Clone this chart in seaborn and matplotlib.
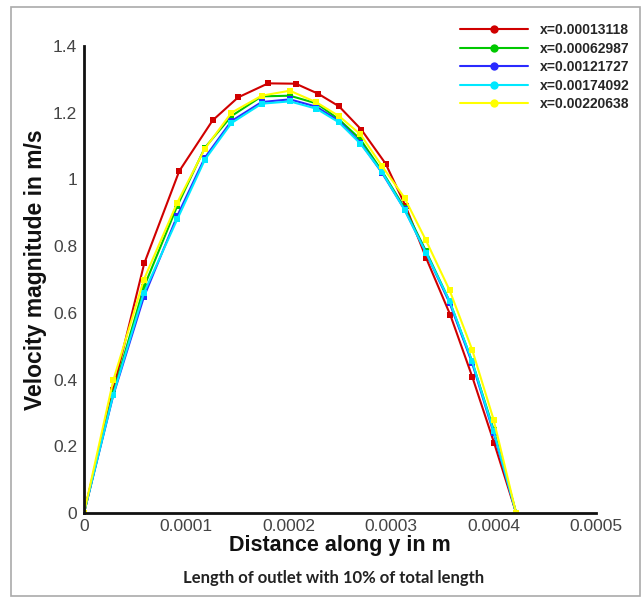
import matplotlib
matplotlib.use("Agg")
import matplotlib.pyplot as plt
import seaborn as sns
import pandas as pd
import numpy as np
from matplotlib.lines import Line2D
from matplotlib.patches import Rectangle
from matplotlib.ticker import AutoMinorLocator

labels = ["x=0.00013118", "x=0.00062987", "x=0.00121727", "x=0.00174092", "x=0.00220638"]
colors = ["#d00000", "#00c800", "#2a2aff", "#00e8ff", "#ffff00"]

x_ticks = [0, 0.0001, 0.0002, 0.0003, 0.0004, 0.0005]
x_tick_labels = ["0", "0.0001", "0.0002", "0.0003", "0.0004", "0.0005"]
y_ticks = [0, 0.2, 0.4, 0.6, 0.8, 1.0, 1.2, 1.4]
y_tick_labels = ["0", "0.2", "0.4", "0.6", "0.8", "1", "1.2", "1.4"]

x_red = [0, 0.0000286, 0.0000588, 0.000093, 0.0001256, 0.0001505, 0.0001798, 0.0002068,
         0.0002286, 0.0002491, 0.0002709, 0.0002946, 0.0003141, 0.0003343, 0.0003578,
         0.0003792, 0.0004005, 0.000422]
x_other = [0, 0.0000286, 0.0000585, 0.000091, 0.000118, 0.000144, 0.0001735, 0.000201,
           0.000227, 0.000249, 0.000270, 0.000291, 0.000313, 0.000334, 0.000357,
           0.000379, 0.0004, 0.000422]

v_red = [0, 0.37, 0.748, 1.025, 1.177, 1.246, 1.288, 1.287, 1.257, 1.219, 1.149, 1.047,
         0.92, 0.763, 0.593, 0.408, 0.21, 0]
v_green = [0, 0.36, 0.677, 0.92, 1.095, 1.19, 1.249, 1.251, 1.228, 1.18, 1.12, 1.025,
           0.915, 0.785, 0.635, 0.455, 0.25, 0]
v_blue = [0, 0.353, 0.648, 0.89, 1.065, 1.175, 1.232, 1.24, 1.218, 1.175, 1.11, 1.02,
          0.91, 0.78, 0.63, 0.45, 0.24, 0]
v_cyan = [0, 0.355, 0.66, 0.88, 1.059, 1.169, 1.227, 1.234, 1.212, 1.171, 1.107, 1.022,
          0.909, 0.78, 0.635, 0.455, 0.245, 0]
v_yellow = [0, 0.398, 0.70, 0.93, 1.092, 1.20, 1.251, 1.266, 1.231, 1.19, 1.135, 1.04,
            0.945, 0.817, 0.668, 0.49, 0.28, 0]

xs = [x_red, x_other, x_other, x_other, x_other]
vs = [v_red, v_green, v_blue, v_cyan, v_yellow]

frames = []
for lab, x, v in zip(labels, xs, vs):
    frames.append(pd.DataFrame({"x": x, "v": v, "series": lab}))
df = pd.concat(frames, ignore_index=True)

sns.set_style("white")
plt.rcParams["font.family"] = ["Liberation Sans", "DejaVu Sans"]

fig = plt.figure(figsize=(6.42, 5.98), dpi=100)
ax = fig.add_axes([84/642, 1-513/598, (596-84)/642, (513-46)/598])

sns.lineplot(data=df, x="x", y="v", hue="series", palette=dict(zip(labels, colors)),
             estimator=None, sort=False, marker="s", markersize=4.5, markeredgewidth=0,
             linewidth=1.5, legend=False, ax=ax)

ax.set_xlim(0, 0.0005)
ax.set_ylim(0, 1.4)
ax.set_xticks(x_ticks, x_tick_labels)
ax.set_yticks(y_ticks, y_tick_labels)
ax.xaxis.set_minor_locator(AutoMinorLocator(5))
ax.yaxis.set_minor_locator(AutoMinorLocator(4))

for s in ["top", "right"]:
    ax.spines[s].set_visible(False)
for s in ["left", "bottom"]:
    ax.spines[s].set_linewidth(2.0)
    ax.spines[s].set_color("#111111")

ax.tick_params(which="major", direction="in", length=7, width=1.8, color="#111111",
               labelsize=12.5, labelcolor="#444444", pad=5)
ax.tick_params(which="minor", direction="in", length=4, width=1.0, color="#666666")
ax.tick_params(axis="x", which="major", pad=4)

ax.set_xlabel("Distance along y in m", fontsize=15.5, fontweight="bold", color="#111111", labelpad=1)
ax.set_ylabel("Velocity magnitude in m/s", fontsize=16.5, fontweight="bold", color="#111111")
ax.yaxis.set_label_coords(-0.072, 0.52)

handles = [Line2D([0], [0], color=c, lw=1.5, marker="o", markersize=6, markeredgewidth=0)
           for c in colors]
leg = fig.legend(handles, labels, loc="upper left", bbox_to_anchor=(453/642, 1-16/598),
                 bbox_transform=fig.transFigure, frameon=False, borderpad=0,
                 handlelength=4.9, handletextpad=0.85, labelspacing=0.33,
                 prop={"size": 10, "weight": "bold", "family": ["Liberation Sans"]})

fig.text(334/642, 1-578/598, "Length of outlet with 10% of total length",
         ha="center", va="center", fontsize=12, fontweight="bold", color="#222222",
         family=["Lato", "DejaVu Sans"])

fig.patches.append(Rectangle((11/642, 2/598), 629/642, 1-9/598, transform=fig.transFigure,
                             fill=False, edgecolor="#aaaaaa", linewidth=1.2))

fig.savefig("out.png", dpi=100)
